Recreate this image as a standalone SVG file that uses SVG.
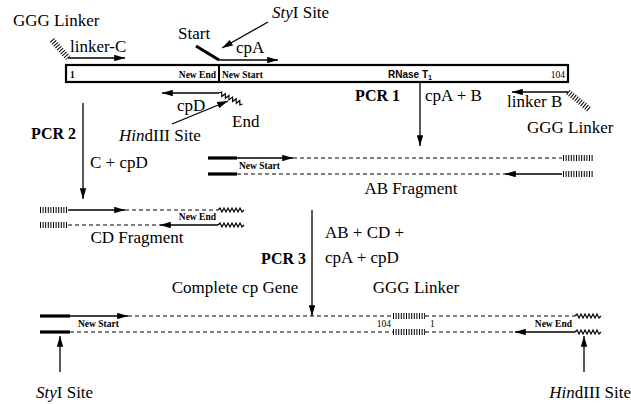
<svg xmlns="http://www.w3.org/2000/svg" width="631" height="404" viewBox="0 0 631 404">
<defs>
<style>
text{font-family:"Liberation Serif","Times New Roman",serif;fill:#000}
.t{font-size:17px}
.b{font-weight:bold;font-size:16px}
.s{font-size:9.5px;font-weight:bold}
.n{font-size:9.5px}
.ln{stroke:#000;stroke-width:1.3;fill:none}
.th{stroke:#000;stroke-width:3.2;fill:none}
.da{stroke:#000;stroke-width:1;fill:none;stroke-dasharray:4 3}
.ha{stroke:#000;stroke-width:6;fill:none;stroke-dasharray:1 1.6}
.zz{stroke:#000;stroke-width:1.2;fill:none}
</style>
<marker id="ah" viewBox="0 0 10 6" refX="10" refY="3" markerWidth="11" markerHeight="6.5" markerUnits="userSpaceOnUse" orient="auto">
<path d="M0,0 L10,3 L0,6 Z" fill="#000"/>
</marker>
<path id="zig" d="M0,0 l2,-2 l2,4 l2,-4 l2,4 l2,-4 l2,4 l2,-4 l2,4 l2,-4 l2,4 l2,-4 l2,4 l2,-2" class="zz"/>
</defs>

<g id="gene-box">
<rect x="66" y="65" width="502" height="17" fill="#fff" stroke="#000" stroke-width="2.2"/>
<line x1="219" y1="65" x2="219" y2="82" stroke="#000" stroke-width="2"/>
<text x="70" y="77.5" class="s">1</text>
<text x="216" y="77.5" class="s" text-anchor="end">New End</text>
<text x="222" y="77.5" class="s">New Start</text>
<text x="410" y="77.5" font-size="10" font-weight="bold" style="font-family:'Liberation Sans',Arial,sans-serif" text-anchor="middle">RNase T<tspan font-size="7" dy="2">1</tspan></text>
<text x="565" y="77.5" class="n" text-anchor="end">104</text>
</g>

<g id="primer-linkerC">
<line x1="52" y1="40" x2="68" y2="58" class="ha"/>
<line x1="68" y1="58" x2="125" y2="58" class="ln" marker-end="url(#ah)"/>
<text x="13" y="26" class="t">GGG Linker</text>
<text x="70" y="52" class="t">linker-C</text>
</g>

<g id="primer-cpA">
<line x1="196" y1="46" x2="219" y2="60" class="th"/>
<line x1="219" y1="60" x2="278" y2="60" class="ln" marker-end="url(#ah)"/>
<text x="178" y="39" class="t">Start</text>
<text x="236" y="53" class="t">cpA</text>
<text x="272" y="18" class="t"><tspan font-style="italic">Sty</tspan>I Site</text>
<line x1="268" y1="22" x2="222" y2="48" class="ln" marker-end="url(#ah)"/>
</g>

<g id="primer-cpD">
<line x1="219" y1="93" x2="162" y2="93" class="ln" marker-end="url(#ah)"/>
<use href="#zig" transform="translate(219,93) rotate(25)"/>
<text x="177" y="111" class="t">cpD</text>
<text x="232" y="127" class="t">End</text>
<text x="119" y="141" class="t"><tspan font-style="italic">Hin</tspan>dIII Site</text>
<line x1="172" y1="124" x2="228" y2="101" class="ln" marker-end="url(#ah)"/>
</g>

<g id="primer-linkerB">
<line x1="568" y1="92" x2="512" y2="92" class="ln" marker-end="url(#ah)"/>
<line x1="568" y1="92" x2="590" y2="110" class="ha"/>
<text x="507" y="107" class="t">linker B</text>
<text x="527" y="133" class="t">GGG Linker</text>
</g>

<g id="connectors">
<line x1="420" y1="83" x2="420" y2="146" class="ln" stroke-width="1" marker-end="url(#ah)"/>
<line x1="83" y1="103" x2="83" y2="199" class="ln" stroke-width="1" marker-end="url(#ah)"/>
<line x1="312" y1="210" x2="312" y2="316" class="ln" stroke-width="1" marker-end="url(#ah)"/>
</g>

<g id="pcr1-label">
<text x="400" y="101" class="b" text-anchor="end">PCR 1</text>
<text x="425" y="101" class="t">cpA + B</text>
</g>
<g id="pcr2-label">
<text x="76" y="139" class="b" text-anchor="end">PCR 2</text>
<text x="90" y="168" class="t">C + cpD</text>
</g>
<g id="pcr3-label">
<text x="306" y="264" class="b" text-anchor="end">PCR 3</text>
<text x="325" y="238" class="t">AB + CD +</text>
<text x="325" y="263" class="t">cpA + cpD</text>
</g>

<g id="ab-fragment">
<line x1="208" y1="158" x2="237" y2="158" class="th"/>
<line x1="237" y1="158" x2="293" y2="158" class="ln" marker-end="url(#ah)"/>
<line x1="293" y1="158" x2="562" y2="158" class="da"/>
<line x1="563" y1="158" x2="593" y2="158" class="ha"/>
<line x1="208" y1="174" x2="237" y2="174" class="th"/>
<line x1="237" y1="174" x2="505" y2="174" class="da"/>
<line x1="562" y1="174" x2="505" y2="174" class="ln" marker-end="url(#ah)"/>
<line x1="563" y1="174" x2="593" y2="174" class="ha"/>
<text x="239" y="169" class="s">New Start</text>
<text x="411" y="194" class="t" text-anchor="middle">AB Fragment</text>
</g>

<g id="cd-fragment">
<line x1="40" y1="210" x2="68" y2="210" class="ha"/>
<line x1="68" y1="210" x2="125" y2="210" class="ln" marker-end="url(#ah)"/>
<line x1="125" y1="210" x2="218" y2="210" class="da"/>
<use href="#zig" transform="translate(218,210)"/>
<line x1="40" y1="225" x2="68" y2="225" class="ha"/>
<line x1="68" y1="225" x2="160" y2="225" class="da"/>
<line x1="218" y1="225" x2="160" y2="225" class="ln" marker-end="url(#ah)"/>
<use href="#zig" transform="translate(218,225)"/>
<text x="216" y="220" class="s" text-anchor="end">New End</text>
<text x="137" y="243" class="t" text-anchor="middle">CD Fragment</text>
</g>

<g id="cp-gene">
<text x="235" y="293" class="t" text-anchor="middle">Complete cp Gene</text>
<text x="416" y="293" class="t" text-anchor="middle">GGG Linker</text>
<line x1="40" y1="316" x2="70" y2="316" class="th"/>
<line x1="70" y1="316" x2="128" y2="316" class="ln" marker-end="url(#ah)"/>
<line x1="128" y1="316" x2="393" y2="316" class="da"/>
<line x1="393" y1="316" x2="425" y2="316" class="ha"/>
<line x1="425" y1="316" x2="575" y2="316" class="da"/>
<use href="#zig" transform="translate(575,316)"/>
<line x1="40" y1="332" x2="70" y2="332" class="th"/>
<line x1="70" y1="332" x2="393" y2="332" class="da"/>
<line x1="393" y1="332" x2="425" y2="332" class="ha"/>
<line x1="425" y1="332" x2="515" y2="332" class="da"/>
<line x1="575" y1="332" x2="515" y2="332" class="ln" marker-end="url(#ah)"/>
<use href="#zig" transform="translate(575,332)"/>
<text x="78" y="327" class="s">New Start</text>
<text x="391" y="327" class="n" text-anchor="end">104</text>
<text x="430" y="327" class="n">1</text>
<text x="572" y="327" class="s" text-anchor="end">New End</text>
<line x1="60" y1="372" x2="60" y2="336" class="ln" marker-end="url(#ah)"/>
<line x1="584" y1="372" x2="584" y2="336" class="ln" marker-end="url(#ah)"/>
<text x="36" y="398" class="t"><tspan font-style="italic">Sty</tspan>I Site</text>
<text x="631" y="398" class="t" text-anchor="end"><tspan font-style="italic">Hin</tspan>dIII Site</text>
</g>
</svg>
